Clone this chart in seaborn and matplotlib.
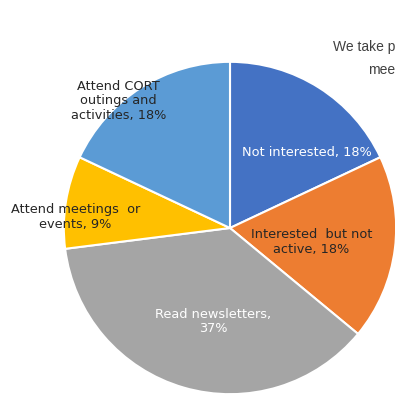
import matplotlib
matplotlib.use("Agg")
import matplotlib.pyplot as plt
import seaborn as sns

# Survey responses, clockwise from 12 o'clock
categories = [
    "Not interested",
    "Interested but not active",
    "Read newsletters",
    "Attend meetings or events",
    "Attend CORT outings and activities",
]
shares = [18, 18, 37, 9, 18]
colors = ["#4472C4", "#ED7D31", "#A5A5A5", "#FFC000", "#5B9BD5"]

# Line-broken label text and placement (data units of a unit-radius pie)
label_text = {
    "Not interested": "Not interested, {v}%",
    "Interested but not active": "Interested  but not\nactive, {v}%",
    "Read newsletters": "Read newsletters,\n{v}%",
    "Attend meetings or events": "Attend meetings  or\nevents, {v}%",
    "Attend CORT outings and activities": "Attend CORT\noutings and\nactivities, {v}%",
}
label_pos = [(0.46, 0.455), (0.49, -0.084), (-0.10, -0.563), (-0.93, 0.066), (-0.67, 0.766)]
label_color = ["white", "#262626", "white", "#262626", "#262626"]

sns.set_style("white")
plt.rcParams["font.family"] = ["DejaVu Sans"]

W, H = 395, 394
fig = plt.figure(figsize=(W / 100, H / 100), dpi=100)
cx, cy, r = 230, 228, 167
ax = fig.add_axes([(cx - r) / W, (H - cy - r) / H, 2 * r / W, 2 * r / H])

ax.pie(
    shares,
    colors=sns.color_palette(colors),
    startangle=90,
    counterclock=False,
    radius=1.0,
    wedgeprops=dict(edgecolor="white", linewidth=1.5),
)
ax.set_xlim(-1.005, 1.005)
ax.set_ylim(-1.005, 1.005)
ax.set_aspect("equal")
ax.axis("off")

for cat, v, (x, y), c in zip(categories, shares, label_pos, label_color):
    ax.text(x, y, label_text[cat].format(v=v), ha="center", va="center",
            color=c, fontsize=9.3, linespacing=1.15)

# Chart title, running off the right edge
fig.text(333 / W, 1 - 47 / H, "We take p", ha="left", va="center",
         fontsize=10, color="#404040", family=["Liberation Sans"])
fig.text(368 / W, 1 - 70 / H, "mee", ha="left", va="center",
         fontsize=10, color="#404040", family=["Liberation Sans"])

fig.savefig("out.png", dpi=100)
